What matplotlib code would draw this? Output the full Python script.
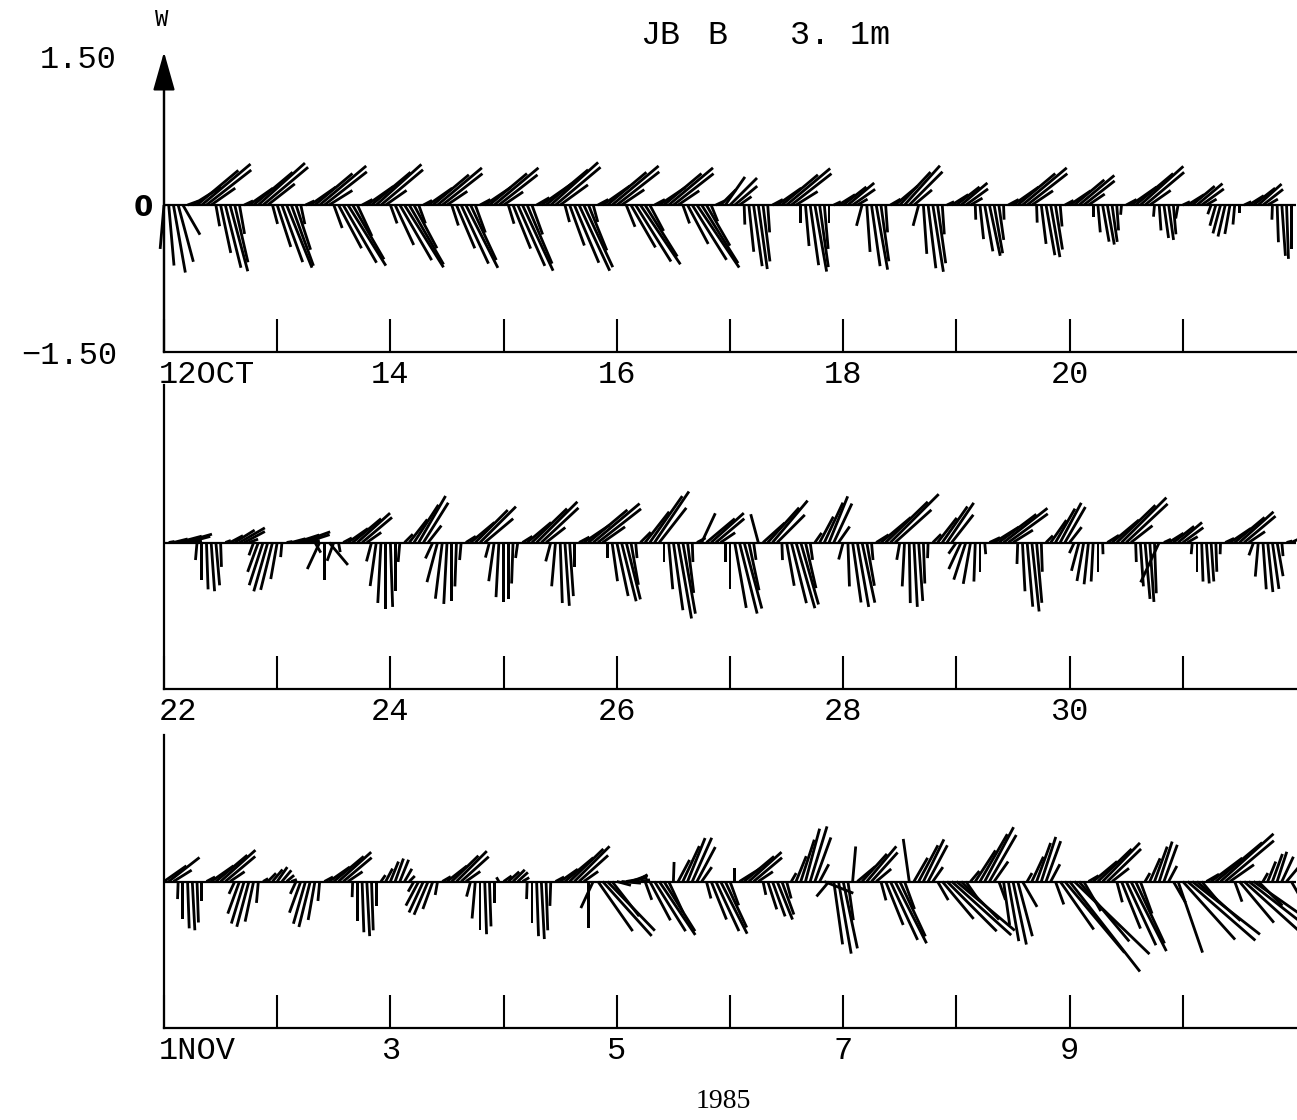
import numpy as np
import matplotlib
matplotlib.use("Agg")
import matplotlib.pyplot as plt
import matplotlib.transforms as mtransforms

# Hourly current records at JB station B, 3.1 m depth (speed in cm/s,
# heading in degrees clockwise from the plot's "up" direction).
# Each record holds 240 hourly values (10 days), one line per tidal phase.

speed_oct12 = [
    45, 62, 70, 60, 35,
    12, 35, 55, 65, 58, 30,
    22, 50, 66, 70, 60, 30,
    10, 30, 52, 64, 60, 35,
    20, 45, 62, 69, 66, 48, 20,
    10, 32, 50, 62, 55, 28,
    25, 50, 68, 73, 64, 35,
    12, 33, 52, 62, 56, 26,
    20, 45, 65, 75, 70, 50, 20,
    10, 30, 48, 59, 52, 25,
    22, 48, 66, 72, 62, 30,
    12, 32, 50, 59, 50, 24,
    20, 48, 68, 74, 65, 32,
    15, 38, 56, 65, 60, 35,
    18, 44, 64, 74, 70, 50, 18,
    12, 34, 52, 62, 55, 28,
    24, 50, 68, 73, 62, 30,
    12, 32, 50, 59, 52, 26,
    20, 45, 66, 77, 70, 48, 18,
    10, 22, 35, 39, 30, 15,
    20, 48, 63, 66, 58, 28,
    12, 30, 48, 58, 52, 26,
    18, 42, 62, 69, 64, 45, 18,
    8, 20, 30, 35, 28, 12,
    22, 48, 63, 67, 58, 28,
    12, 30, 46, 54, 48, 24,
    22, 50, 65, 69, 60, 30,
    8, 20, 30, 35, 28, 14,
    15, 35, 48, 53, 50, 36, 15,
    12, 32, 50, 59, 52, 26,
    18, 40, 52, 54, 46, 22,
    10, 26, 40, 47, 40, 20,
    12, 28, 38, 41, 38, 26, 10,
    12, 32, 50, 59, 52, 26,
    12, 26, 34, 36, 30, 14,
    8, 20, 30, 34, 28, 12,
    10, 22, 30, 33, 30, 20, 8,
    8, 18, 28, 32, 26, 12,
    15, 38, 52, 55, 45,
]
heading_oct12 = [
    185, 175, 170, 165, 150,
    70, 58, 50, 50, 52, 55,
    170, 168, 166, 165, 167, 170,
    65, 55, 50, 48, 50, 52,
    165, 162, 160, 158, 160, 162, 168,
    65, 55, 50, 50, 52, 58,
    160, 152, 150, 148, 150, 155,
    62, 55, 50, 48, 50, 55,
    160, 155, 150, 148, 150, 152, 160,
    62, 55, 50, 50, 52, 56,
    162, 157, 155, 153, 155, 160,
    62, 56, 50, 50, 52, 56,
    163, 158, 156, 155, 157, 160,
    60, 55, 50, 48, 50, 54,
    165, 160, 157, 155, 155, 158, 165,
    62, 55, 50, 50, 52, 56,
    158, 150, 148, 146, 148, 152,
    62, 56, 50, 50, 52, 56,
    160, 152, 148, 146, 148, 150, 158,
    65, 45, 35, 45, 50, 55,
    178, 174, 172, 172, 173, 176,
    62, 55, 50, 50, 52, 58,
    180, 175, 172, 170, 172, 175, 180,
    65, 58, 52, 50, 55, 60,
    195, 176, 172, 170, 172, 176,
    60, 50, 43, 42, 45, 50,
    195, 176, 173, 171, 172, 176,
    65, 58, 52, 50, 54, 60,
    178, 174, 170, 168, 170, 172, 178,
    62, 55, 50, 50, 52, 56,
    178, 173, 170, 170, 171, 175,
    62, 56, 50, 50, 52, 56,
    180, 175, 170, 170, 172, 176, 185,
    62, 55, 50, 48, 50, 55,
    185, 176, 172, 172, 175, 190,
    65, 58, 50, 50, 54, 60,
    200, 196, 195, 193, 190, 185, 180,
    65, 58, 52, 48, 52, 60,
    182, 178, 176, 178, 180,
]

speed_oct22 = [
    25,
    6, 15, 25, 31, 24, 10,
    18, 38, 48, 50, 44, 25,
    6, 15, 24, 30, 24, 10,
    14, 32, 46, 52, 50, 38, 15,
    6, 15, 25, 32, 26, 10,
    12, 30, 38, 30, 20, 10,
    10, 25, 38, 45, 40, 18,
    20, 45, 62, 68, 66, 50, 20,
    12, 30, 46, 55, 48, 22,
    18, 42, 58, 63, 60, 45, 18,
    12, 32, 47, 52, 38,
    16, 40, 56, 61, 58, 42, 16,
    12, 32, 50, 59, 52, 25,
    20, 45, 62, 65, 55, 25,
    12, 32, 52, 62, 56, 28,
    16, 40, 56, 62, 60, 44, 16,
    15, 40, 58, 63, 45,
    20, 48, 70, 79, 74, 52, 20,
    10, 33, 38, 45, 38, 18,
    20, 48, 68, 75, 70, 50, 18,
    30, 30, 48, 56, 40,
    18, 45, 64, 70, 66, 48, 18,
    12, 30, 45, 51, 44, 20,
    18, 45, 62, 67, 63, 45, 18,
    15, 40, 60, 70, 50,
    18, 45, 62, 66, 60, 42, 16,
    12, 32, 45, 49, 36,
    14, 30, 40, 43, 40, 30, 12,
    12, 30, 48, 57, 50, 24,
    22, 50, 66, 71, 62, 30,
    10, 28, 40, 46, 42, 20,
    12, 30, 40, 43, 40, 30, 12,
    14, 36, 55, 65, 58, 28,
    20, 45, 58, 61, 52, 45,
    8, 18, 27, 32, 26, 12,
    12, 30, 40, 42, 40, 30, 12,
    10, 26, 40, 47, 42, 20,
    14, 35, 48, 51, 48, 35, 14,
    6, 14,
]
heading_oct22 = [
    180,
    80, 76, 75, 74, 75, 80,
    185, 180, 178, 176, 175, 178,
    70, 62, 58, 60, 62, 70,
    200, 200, 198, 196, 194, 190, 185,
    80, 75, 72, 70, 72, 78,
    150, 205, 180, 140, 200, 170,
    62, 55, 50, 48, 50, 55,
    195, 188, 183, 180, 178, 180, 185,
    45, 38, 33, 30, 32, 38,
    205, 195, 187, 183, 180, 182, 185,
    58, 50, 45, 45, 50,
    195, 188, 183, 180, 180, 182, 188,
    58, 50, 46, 45, 47, 52,
    195, 185, 178, 176, 176, 180,
    62, 56, 50, 50, 52, 55,
    180, 172, 168, 166, 166, 170, 175,
    45, 38, 35, 34, 38,
    180, 175, 172, 170, 170, 173, 178,
    62, 25, 50, 48, 50, 56,
    180, 180, 170, 166, 165, 168, 172,
    345, 48, 42, 40, 45,
    178, 170, 166, 164, 164, 167, 172,
    35, 28, 25, 22, 25, 35,
    195, 178, 172, 170, 168, 170, 175,
    58, 50, 46, 45, 48,
    190, 183, 179, 177, 176, 178, 182,
    45, 38, 35, 34, 38,
    215, 205, 198, 190, 182, 180, 175,
    65, 58, 53, 52, 54, 58,
    182, 177, 175, 174, 175, 178,
    45, 35, 30, 28, 30, 38,
    205, 195, 190, 186, 183, 180, 178,
    58, 50, 46, 45, 47, 52,
    178, 176, 175, 176, 178, 205,
    65, 58, 52, 50, 54, 60,
    185, 180, 178, 176, 176, 178, 182,
    65, 56, 50, 48, 50, 56,
    200, 185, 176, 174, 172, 170, 175,
    75, 65,
]

speed_nov01 = [
    28, 40, 22,
    18, 38, 48, 50, 42, 20,
    10, 28, 42, 48, 40, 18,
    14, 35, 45, 48, 42, 22,
    6, 12, 16, 18, 15, 10, 6,
    14, 34, 45, 48, 40, 20,
    10, 26, 40, 45, 38, 18,
    16, 40, 52, 56, 50, 25,
    8, 15, 22, 25, 24, 15, 8,
    12, 28, 35, 37, 30, 14,
    10, 26, 38, 44, 38, 18,
    16, 38, 50, 54, 46, 22,
    5, 10, 15, 17, 14, 8,
    18, 42, 56, 59, 50, 25,
    10, 22, 38, 48, 51, 40, 18,
    48, 30, 62, 75, 70, 45,
    15, 20, 22, 18, 14, 10,
    20, 45, 60, 66, 60, 35,
    20, 25, 40, 48, 49, 40, 18,
    18, 42, 56, 60, 52, 26,
    14, 26, 40, 45, 38, 18,
    14, 30, 38, 42, 36, 18,
    10, 28, 45, 56, 59, 48, 20,
    32, 20, 65, 75, 70, 40,
    36, 24, 38, 47, 40, 20,
    20, 48, 66, 71, 62, 30,
    44, 28, 42, 48, 42, 18,
    22, 50, 72, 82, 78, 55, 22,
    14, 38, 56, 63, 55, 25,
    20, 45, 62, 66, 58, 30,
    10, 28, 42, 48, 44, 20,
    25, 60, 95, 117, 107, 80, 35,
    12, 32, 48, 55, 48, 22,
    22, 52, 72, 80, 70, 35,
    10, 26, 38, 43, 40, 18,
    25, 77, 80, 92, 88, 60, 25,
    15, 40, 62, 73, 65, 30,
    22, 55, 75, 82, 70, 35,
    10, 22, 30, 32, 28, 20,
    15,
]
heading_nov01 = [
    55, 52, 58,
    182, 180, 178, 177, 178, 180,
    62, 55, 50, 48, 50, 56,
    205, 200, 197, 195, 192, 185,
    60, 45, 40, 35, 40, 50, 70,
    205, 200, 196, 194, 190, 185,
    62, 55, 50, 48, 50, 56,
    182, 180, 178, 177, 178, 180,
    35, 28, 22, 20, 22, 30, 45,
    210, 208, 205, 203, 200, 190,
    60, 52, 46, 45, 48, 55,
    195, 185, 180, 178, 178, 180,
    330, 55, 48, 45, 48, 60,
    182, 180, 178, 177, 178, 182,
    62, 55, 50, 46, 45, 48, 55,
    180, 205, 145, 138, 136, 142,
    105, 95, 80, 70, 60, 80,
    160, 152, 148, 146, 148, 155,
    2, 28, 25, 22, 24, 28, 35,
    165, 158, 155, 153, 155, 160,
    0, 58, 50, 48, 50, 56,
    168, 162, 160, 158, 160, 165,
    30, 22, 18, 15, 17, 20, 28,
    112, 220, 172, 170, 168, 172,
    5, 50, 42, 40, 42, 50,
    165, 158, 155, 153, 155, 160,
    352, 30, 28, 26, 28, 35,
    150, 140, 135, 132, 130, 135, 145,
    40, 33, 30, 28, 30, 35,
    160, 172, 170, 168, 165, 150,
    30, 25, 20, 18, 20, 28,
    160, 145, 140, 142, 134, 140, 150,
    60, 50, 46, 44, 46, 52,
    165, 158, 155, 153, 155, 160,
    30, 24, 20, 18, 20, 28,
    150, 161, 138, 131, 128, 132, 140,
    60, 53, 50, 48, 50, 55,
    160, 140, 132, 128, 125, 135,
    30, 22, 20, 18, 25, 40,
    150,
]

day_labels_oct12 = ["12OCT", "", "14", "", "16", "", "18", "", "20", ""]
day_labels_oct22 = ["22", "", "24", "", "26", "", "28", "", "30", ""]
day_labels_nov01 = ["1NOV", "", "3", "", "5", "", "7", "", "9", ""]

records = [
    (speed_oct12, heading_oct12, day_labels_oct12),
    (speed_oct22, heading_oct22, day_labels_oct22),
    (speed_nov01, heading_nov01, day_labels_nov01),
]
for spd, hdg, _ in records:
    assert len(spd) == 240 and len(hdg) == 240

W, H = 1297, 1120
fig = plt.figure(figsize=(W / 100, H / 100), dpi=100)


def px_box(left, top, right, bottom):
    return [left / W, 1 - bottom / H, (right - left) / W, (bottom - top) / H]


def fx(x):
    return x / W


def fy(y):
    return 1 - y / H


label_font = ["Liberation Mono", "DejaVu Sans Mono"]
label_size = 23
panel_boxes = [
    px_box(164, 58, 1296, 352),
    px_box(164, 396, 1296, 689),
    px_box(164, 735, 1296, 1028),
]

for i, ((spd, hdg, labels), box) in enumerate(zip(records, panel_boxes)):
    ax = fig.add_axes(box)
    spd = np.asarray(spd, dtype=float) / 100.0
    hdg = np.deg2rad(np.asarray(hdg, dtype=float))
    t = np.arange(len(spd)) / 24.0
    u = spd * np.sin(hdg)
    v = spd * np.cos(hdg)

    ax.quiver(t, np.zeros_like(t), u, v, angles="uv", scale_units="y",
              scale=1, units="dots", width=2.8, headwidth=0, headlength=0,
              headaxislength=0, pivot="tail", color="black", clip_on=False,
              zorder=3)
    ax.axhline(0, color="black", lw=1.6, zorder=4)

    ax.set_xlim(0, 10)
    ax.set_ylim(-1.5, 1.5)
    for side in ("top", "right"):
        ax.spines[side].set_visible(False)
    for side in ("left", "bottom"):
        ax.spines[side].set_linewidth(1.6)
    if i == 1:
        ax.spines["left"].set_bounds(-1.5, 1.61)
    ax.set_yticks([])
    ax.set_xticks(np.arange(0, 10))
    ax.set_xticklabels(labels, family=label_font, fontsize=label_size)
    ax.tick_params(axis="x", direction="in", length=24, width=1.5, pad=6)
    first = ax.get_xticklabels()[0]
    first.set_ha("left")
    first.set_transform(first.get_transform() +
                        mtransforms.ScaledTranslation(-0.05, 0, fig.dpi_scale_trans))

# Vertical scale arrow on the upper panel
fig.patches.append(matplotlib.patches.FancyArrowPatch(
    (fx(164), fy(352)), (fx(164), fy(52)), transform=fig.transFigure,
    arrowstyle="-|>,head_length=0.6,head_width=0.17", mutation_scale=40,
    color="black", lw=1.6, shrinkA=0, shrinkB=0))

fig.text(fx(162), fy(20), "W", family="DejaVu Sans Mono", fontsize=16,
         ha="center", va="center")
fig.text(fx(117), fy(60), "1.50", family=label_font, fontsize=label_size,
         ha="right", va="center")
fig.text(fx(117), fy(356), "\u22121.50", family=label_font, fontsize=label_size,
         ha="right", va="center")
fig.text(fx(143), fy(208), "0", family="DejaVu Sans", fontweight="bold",
         fontsize=20, ha="center", va="center")

fig.text(fx(640), fy(36), "JB", family=label_font, fontsize=24,
         ha="left", va="center")
fig.text(fx(707), fy(36), "B", family=label_font, fontsize=24,
         ha="left", va="center")
fig.text(fx(790), fy(36), "3. 1m", family=label_font, fontsize=24,
         ha="left", va="center")

fig.text(fx(723), fy(1102), "1985", family="Liberation Serif", fontsize=20,
         ha="center", va="center")

fig.savefig("out.png", dpi=100)
